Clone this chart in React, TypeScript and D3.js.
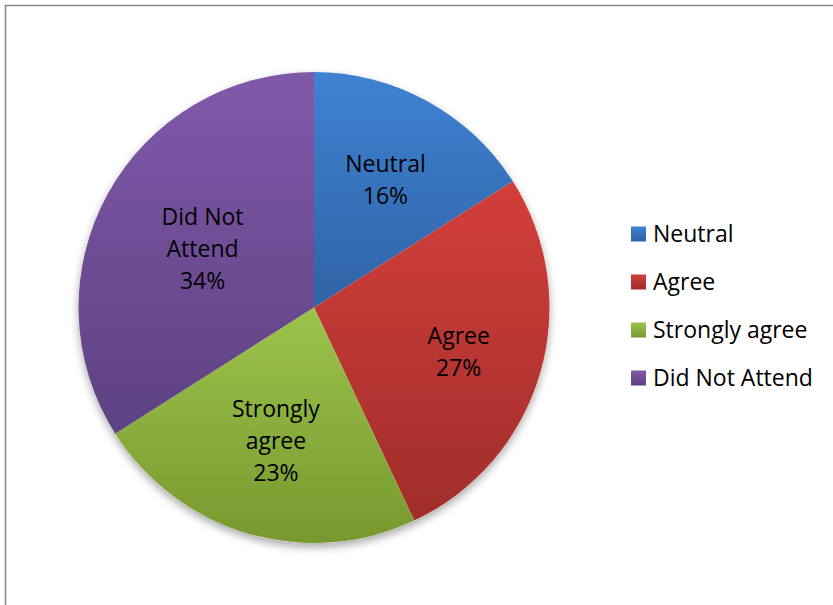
import React from "react";
import * as d3 from "d3";

const categories = ["Neutral", "Agree", "Strongly agree", "Did Not Attend"];
const labelLines = [["Neutral"], ["Agree"], ["Strongly", "agree"], ["Did Not", "Attend"]];
const values = [16, 27, 23, 34];
const labelRadiusFrac = [0.63, 0.64, 0.58, 0.54];
const topColors = ["#3f82d2", "#d33f3b", "#9cc44b", "#8159aa"];
const bottomColors = ["#2f63a5", "#a02d2a", "#77982f", "#5d4181"];

export default function App() {
  const W = 833, H = 605;
  const cx = 314, cy = 307.5, R = 235.5;
  const pie = d3.pie<number>().sort(null).value((d) => d)(values);
  const arc = d3.arc<d3.PieArcDatum<number>>().innerRadius(0).outerRadius(R);
  const total = d3.sum(values);
  const font = "Open Sans, sans-serif";
  const fs = 23;
  const lh = 32;
  const legendY = d3.scalePoint<string>().domain(categories).range([234, 378]);
  return (
    <svg width={W} height={H} style={{ position: "absolute", left: 0, top: 0 }}>
      <defs>
        {values.map((_, i) => (
          <linearGradient key={i} id={`g${i}`} x1="0" y1="0" x2="0" y2="1">
            <stop offset="0" stopColor={topColors[i]} />
            <stop offset="1" stopColor={bottomColors[i]} />
          </linearGradient>
        ))}
        <filter id="sh" x="-20%" y="-20%" width="140%" height="140%">
          <feDropShadow dx="0" dy="4" stdDeviation="4" floodColor="#000" floodOpacity="0.35" />
        </filter>
      </defs>
      <rect x={0} y={0} width={W} height={H} fill="#fff" />
      <rect x={5.5} y={5.5} width={W + 10} height={H + 10} fill="none" stroke="#888" strokeWidth={1.5} />
      <g transform={`translate(${cx},${cy})`}>
        <circle r={R} fill="#fff" filter="url(#sh)" />
        {pie.map((p, i) => (
          <path key={i} d={arc(p) || ""} fill={`url(#g${i})`} />
        ))}
        {pie.map((p, i) => {
          const lr = R * labelRadiusFrac[i];
          const [x, y] = d3.arc<d3.PieArcDatum<number>>().innerRadius(lr).outerRadius(lr).centroid(p);
          const lines = [...labelLines[i], `${Math.round((values[i] / total) * 100)}%`];
          const y0 = y - ((lines.length - 1) * lh) / 2;
          return (
            <text key={i} textAnchor="middle" fontFamily={font} fontSize={fs} fill="#000">
              {lines.map((l, j) => (
                <tspan key={j} x={x} y={y0 + j * lh} dy="0.45em">{l}</tspan>
              ))}
            </text>
          );
        })}
      </g>
      {categories.map((c, i) => (
        <g key={c} transform={`translate(631,${legendY(c)})`}>
          <rect x={0} y={-7.5} width={15} height={15} fill={`url(#g${i})`} />
          <text x={22} y={0} dy="0.35em" fontFamily={font} fontSize={fs} fill="#000">{c}</text>
        </g>
      ))}
    </svg>
  );
}
